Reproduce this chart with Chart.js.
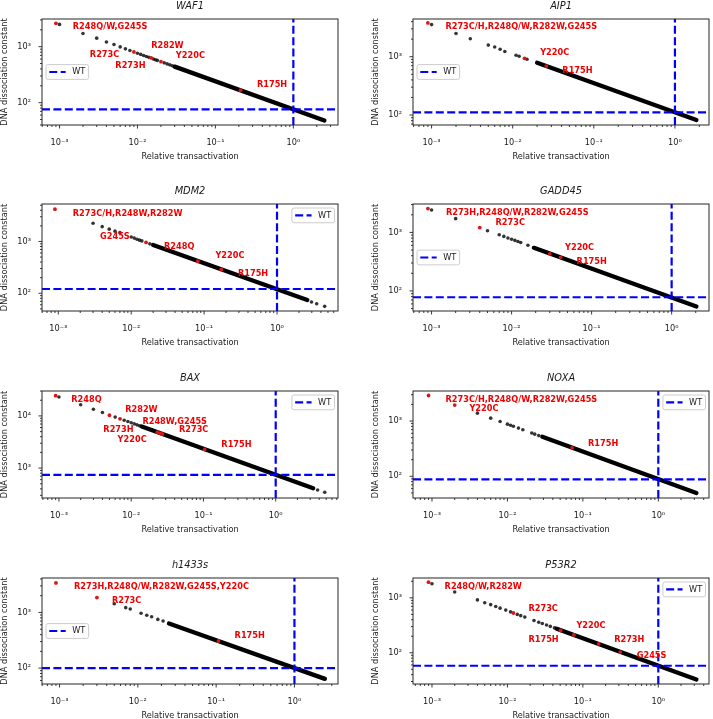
<!DOCTYPE html>
<html>
<head>
<meta charset="utf-8">
<script src="https://cdn.jsdelivr.net/npm/chart.js@4.4.1/dist/chart.umd.min.js"></script>
<style>
  html, body { margin: 0; padding: 0; background: #fff; overflow: hidden; }
  body { position: relative; width: 713px; height: 719px; }
</style>
</head>
<body>
<script>
// ---- data ----
const PANELS = ['WAF1', 'AIP1', 'MDM2', 'GADD45', 'BAX', 'NOXA', 'h1433s', 'P53R2'];
const WT_LEVEL = [76, 111, 121, 78, 740, 88, 100, 58];

const X_MIN = [5.96e-4, 5.9e-4, 5.98e-4, 5.86e-4, 5.83e-4, 5.6e-4, 5.97e-4, 5.6e-4];
const X_MAX = [3.74, 2.63, 6.86, 2.93, 7.28, 4.7, 3.6, 4.7];
const Y_MIN = [39.9, 67.4, 45.5, 45.4, 267, 40.5, 51.8, 27];
const Y_MAX = [3120, 4430, 5285, 3060, 30070, 3500, 4160, 2300];

const X_TICKS = [1e-3, 1e-2, 1e-1, 1];
const X_TICK_LABELS = ['10⁻³', '10⁻²', '10⁻¹', '10⁰'];
const Y_TICKS = [[100, 1000], [100, 1000], [100, 1000], [100, 1000], [1000, 10000], [100, 1000], [100, 1000], [100, 1000]];
const Y_TICK_LABELS = [['10²', '10³'], ['10²', '10³'], ['10²', '10³'], ['10²', '10³'], ['10³', '10⁴'], ['10²', '10³'], ['10²', '10³'], ['10²', '10³']];

// isolated mutants (black)
const DOT_X = [
  [0.001, 0.002, 0.003, 0.004, 0.005, 0.006, 0.007, 0.008, 0.010, 0.011, 0.012, 0.013, 0.014, 0.016, 0.017, 0.018, 0.022, 0.024, 0.026, 0.028],
  [0.001, 0.002, 0.003, 0.005, 0.006, 0.007, 0.008, 0.011, 0.012, 0.015],
  [0.003, 0.004, 0.005, 0.006, 0.007, 0.010, 0.011, 0.012, 0.013, 0.014, 0.018, 2.97, 3.5, 4.5],
  [0.001, 0.002, 0.005, 0.007, 0.008, 0.009, 0.010, 0.011, 0.012, 0.013, 0.016],
  [0.001, 0.002, 0.003, 0.004, 0.006, 0.008, 0.009, 0.010, 0.011, 0.012, 0.013, 3.8, 4.77],
  [0.004, 0.006, 0.008, 0.010, 0.011, 0.012, 0.014, 0.016, 0.021, 0.023, 0.026],
  [0.005, 0.007, 0.008, 0.011, 0.013, 0.015, 0.018, 0.021],
  [0.001, 0.002, 0.004, 0.005, 0.006, 0.007, 0.008, 0.0095, 0.011, 0.0135, 0.015, 0.017, 0.0225, 0.026, 0.029, 0.033, 0.037, 0.042]
];
const DOT_Y = [
  [2500, 1720, 1420, 1210, 1090, 990, 915, 855, 762, 727, 695, 668, 645, 603, 585, 568, 514, 492, 473, 456],
  [3550, 2500, 2030, 1580, 1470, 1340, 1230, 1060, 1015, 905],
  [2240, 1930, 1730, 1580, 1480, 1220, 1160, 1105, 1060, 1025, 900, 68, 63, 56],
  [2420, 1720, 1070, 910, 855, 805, 765, 730, 700, 672, 605],
  [23000, 16400, 13450, 11650, 9500, 8250, 7800, 7400, 7050, 6750, 6500, 380, 345],
  [1390, 1130, 980, 880, 840, 805, 745, 695, 607, 580, 546],
  [1430, 1220, 1150, 965, 890, 835, 750, 700],
  [1810, 1280, 918, 815, 752, 695, 650, 598, 555, 500, 474, 446, 388, 360, 341, 320, 302, 284]
];

// hotspot mutants (red)
const RED_X = [
  [0.0009, 0.009, 0.015, 0.020, 0.21],
  [0.0009, 0.014, 0.026],
  [0.0009, 0.016, 0.082, 0.172],
  [0.0009, 0.004, 0.030, 0.041],
  [0.0009, 0.005, 0.007, 0.023, 0.025, 0.027, 0.104],
  [0.0009, 0.002, 0.072],
  [0.0009, 0.003, 0.107],
  [0.0009, 0.012, 0.0506, 0.076, 0.162, 0.313]
];
const RED_Y = [
  [2610, 805, 630, 540, 167],
  [3800, 938, 690],
  [4200, 957, 415, 288],
  [2560, 1210, 430, 375],
  [24500, 10300, 8800, 4880, 4680, 4500, 2270],
  [2900, 1950, 328],
  [3400, 1850, 307],
  [1930, 530, 256, 211, 145, 103]
];

// ends of the dense run of overlapping mutants
const BAND_X = [[0.03, 2.5], [0.02, 1.84], [0.02, 2.6], [0.019, 2.04], [0.014, 3.3], [0.029, 3.2], [0.025, 2.45], [0.045, 3.2]];
const BAND_Y = [[440, 48], [790, 82], [855, 74], [545, 54], [6250, 410], [520, 50], [635, 64], [274, 32.5]];

const LABEL_TEXT = [
  ['R248Q/W,G245S', 'R282W', 'R273C', 'Y220C', 'R273H', 'R175H'],
  ['R273C/H,R248Q/W,R282W,G245S', 'Y220C', 'R175H'],
  ['R273C/H,R248W,R282W', 'G245S', 'R248Q', 'Y220C', 'R175H'],
  ['R273H,R248Q/W,R282W,G245S', 'R273C', 'Y220C', 'R175H'],
  ['R248Q', 'R282W', 'R248W,G245S', 'R273H', 'R273C', 'Y220C', 'R175H'],
  ['R273C/H,R248Q/W,R282W,G245S', 'Y220C', 'R175H'],
  ['R273H,R248Q/W,R282W,G245S,Y220C', 'R273C', 'R175H'],
  ['R248Q/W,R282W', 'R273C', 'Y220C', 'R175H', 'R273H', 'G245S']
];
const LABEL_X = [
  [1.48e-3, 0.0150, 2.45e-3, 0.0311, 5.2e-3, 0.341],
  [1.48e-3, 0.0218, 0.0409],
  [1.58e-3, 3.74e-3, 0.0282, 0.143, 0.291],
  [1.51e-3, 6.3e-3, 0.0465, 0.0649],
  [1.48e-3, 8.26e-3, 0.0143, 4.12e-3, 0.0458, 6.49e-3, 0.177],
  [1.51e-3, 3.13e-3, 0.117],
  [1.53e-3, 4.66e-3, 0.172],
  [1.47e-3, 0.019, 0.0822, 0.019, 0.26, 0.518]
];
const LABEL_Y = [
  [2213, 1028, 710, 690, 458, 212],
  [3184, 1171, 575],
  [3430, 1213, 777, 528, 237],
  [2118, 1445, 538, 314],
  [20230, 13020, 7795, 5395, 5395, 3478, 2793],
  [2410, 1630, 393],
  [2871, 1593, 383],
  [1563, 631, 314, 175, 175, 87]
];

const LEGEND_LOC = ['center left', 'center left', 'upper right', 'center left', 'upper right', 'upper right', 'center left', 'upper right'];

// ---- styling ----
const FONT = '"DejaVu Sans", sans-serif';
const FS = 8.2;
const TEXT = '#1a1a1a';
const BLUE = '#0000ff';
const WT_DASH = [8, 3.4];
const WT_WIDTH = 2.2;

const COL_LEFT = [0, 371];
const ROW_TOP = [0, 185, 372, 559];
const ROW_PLOT_H = [106, 107, 107, 106];

const pts = (xs, ys) => xs.map((v, k) => ({ x: v, y: ys[k] }));

function tickValues(min, max) {
  const out = [];
  for (let e = Math.floor(Math.log10(min)); e <= Math.ceil(Math.log10(max)); e++) {
    for (let k = 1; k <= 9; k++) {
      const v = k * Math.pow(10, e);
      if (v >= min && v <= max) out.push([v, k === 1]);
    }
  }
  return out;
}

function drawLegend(ctx, a, loc) {
  ctx.font = FS + 'px ' + FONT;
  const pad = 0.4 * FS, handle = 2 * FS, gap = 0.8 * FS;
  const w = pad + handle + gap + ctx.measureText('WT').width + pad;
  const h = FS + 2 * pad;
  let bx, by;
  if (loc === 'upper right') { bx = a.right - 3.5 - w; by = a.top + 4; }
  else { bx = a.left + 4; by = (a.top + a.bottom) / 2 - h / 2; }
  ctx.beginPath();
  ctx.roundRect(bx, by, w, h, 2);
  ctx.fillStyle = 'rgba(255,255,255,0.8)';
  ctx.fill();
  ctx.strokeStyle = '#cccccc';
  ctx.lineWidth = 1;
  ctx.stroke();
  const cy = by + h / 2;
  ctx.beginPath();
  ctx.setLineDash(WT_DASH);
  ctx.strokeStyle = BLUE;
  ctx.lineWidth = WT_WIDTH;
  ctx.moveTo(bx + pad, cy);
  ctx.lineTo(bx + pad + handle, cy);
  ctx.stroke();
  ctx.setLineDash([]);
  ctx.fillStyle = TEXT;
  ctx.textAlign = 'left';
  ctx.textBaseline = 'middle';
  ctx.fillText('WT', bx + pad + handle + gap, cy);
}

const figurePlugin = {
  id: 'figure',
  afterDatasetsDraw(chart, args, opts) {
    const i = opts.panel;
    const { ctx, scales: { x, y } } = chart;
    ctx.save();
    ctx.font = 'bold ' + FS + 'px ' + FONT;
    ctx.fillStyle = '#f00000';
    ctx.textAlign = 'left';
    ctx.textBaseline = 'middle';
    LABEL_TEXT[i].forEach((t, k) => {
      ctx.fillText(t, x.getPixelForValue(LABEL_X[i][k]), y.getPixelForValue(LABEL_Y[i][k]));
    });
    ctx.restore();
  },
  afterDraw(chart, args, opts) {
    const i = opts.panel;
    const { ctx, chartArea: a, scales: { x, y } } = chart;
    ctx.save();
    // tick marks, major and minor
    ctx.strokeStyle = '#222';
    ctx.lineWidth = 0.9;
    ctx.beginPath();
    tickValues(X_MIN[i], X_MAX[i]).forEach(([v, major]) => {
      const px = x.getPixelForValue(v);
      ctx.moveTo(px, a.bottom);
      ctx.lineTo(px, a.bottom + (major ? 3.5 : 2));
    });
    tickValues(Y_MIN[i], Y_MAX[i]).forEach(([v, major]) => {
      const py = y.getPixelForValue(v);
      ctx.moveTo(a.left, py);
      ctx.lineTo(a.left - (major ? 3.5 : 2), py);
    });
    ctx.stroke();
    // frame
    ctx.strokeStyle = '#262626';
    ctx.lineWidth = 1;
    ctx.strokeRect(a.left, a.top, a.right - a.left, a.bottom - a.top);
    drawLegend(ctx, a, LEGEND_LOC[i]);
    // title, centred on the axes
    ctx.font = 'italic 9.8px ' + FONT;
    ctx.fillStyle = TEXT;
    ctx.textAlign = 'center';
    ctx.textBaseline = 'alphabetic';
    ctx.fillText(PANELS[i], (a.left + a.right) / 2, a.top - 9.8);
    ctx.restore();
  }
};

PANELS.forEach((name, i) => {
  const col = i % 2, row = Math.floor(i / 2);
  const w = 342, h = 19 + ROW_PLOT_H[row] + 37;
  const canvas = document.createElement('canvas');
  canvas.width = w;
  canvas.height = h;
  canvas.style.cssText = `position:absolute;left:${COL_LEFT[col]}px;top:${ROW_TOP[row]}px;width:${w}px;height:${h}px`;
  document.body.appendChild(canvas);

  const wtLine = {
    type: 'line', borderColor: BLUE, borderWidth: WT_WIDTH, borderDash: WT_DASH,
    pointRadius: 0, showLine: true, clip: 0, fill: false
  };

  new Chart(canvas, {
    type: 'scatter',
    data: {
      datasets: [
        { ...wtLine, label: 'WT', data: [{ x: X_MIN[i], y: WT_LEVEL[i] }, { x: X_MAX[i], y: WT_LEVEL[i] }] },
        { ...wtLine, label: 'WT activity', data: [{ x: 1, y: Y_MIN[i] }, { x: 1, y: Y_MAX[i] }] },
        { label: 'hotspot', data: pts(RED_X[i], RED_Y[i]), backgroundColor: '#d81818', borderWidth: 0, pointRadius: 1.9 },
        { label: 'mutants', data: pts(DOT_X[i], DOT_Y[i]), backgroundColor: 'rgba(0,0,0,0.8)', borderWidth: 0, pointRadius: 1.8 },
        {
          label: 'dense', type: 'line', data: pts(BAND_X[i], BAND_Y[i]), borderColor: '#000',
          borderWidth: 4.3, borderCapStyle: 'round', pointRadius: 0, showLine: true, fill: false
        }
      ]
    },
    options: {
      responsive: false,
      animation: false,
      events: [],
      layout: { padding: { top: 19, right: 2, left: 0, bottom: 0 } },
      plugins: {
        legend: { display: false },
        tooltip: { enabled: false },
        title: { display: false },
        figure: { panel: i }
      },
      scales: {
        x: {
          type: 'logarithmic', min: X_MIN[i], max: X_MAX[i],
          afterBuildTicks: s => { s.ticks = X_TICKS.map(v => ({ value: v })); },
          afterFit: s => { s.height = 37; },
          grid: { display: false, drawTicks: false },
          border: { display: false },
          ticks: {
            autoSkip: false, maxRotation: 0, padding: 12.5, color: TEXT,
            font: { family: 'DejaVu Sans', size: FS },
            callback: (v, k) => X_TICK_LABELS[k]
          },
          title: { display: true, text: 'Relative transactivation', color: TEXT, padding: 0, font: { family: 'DejaVu Sans', size: FS } }
        },
        y: {
          type: 'logarithmic', min: Y_MIN[i], max: Y_MAX[i],
          afterBuildTicks: s => { s.ticks = Y_TICKS[i].map(v => ({ value: v })); },
          afterFit: s => { s.width = 42; },
          grid: { display: false, drawTicks: false },
          border: { display: false },
          ticks: {
            autoSkip: false, padding: 11, color: TEXT,
            font: { family: 'DejaVu Sans', size: FS },
            callback: (v, k) => Y_TICK_LABELS[i][k]
          },
          title: { display: true, text: 'DNA dissociation constant', color: TEXT, padding: 0, font: { family: 'DejaVu Sans', size: FS } }
        }
      }
    },
    plugins: [figurePlugin]
  });
});
</script>
</body>
</html>
